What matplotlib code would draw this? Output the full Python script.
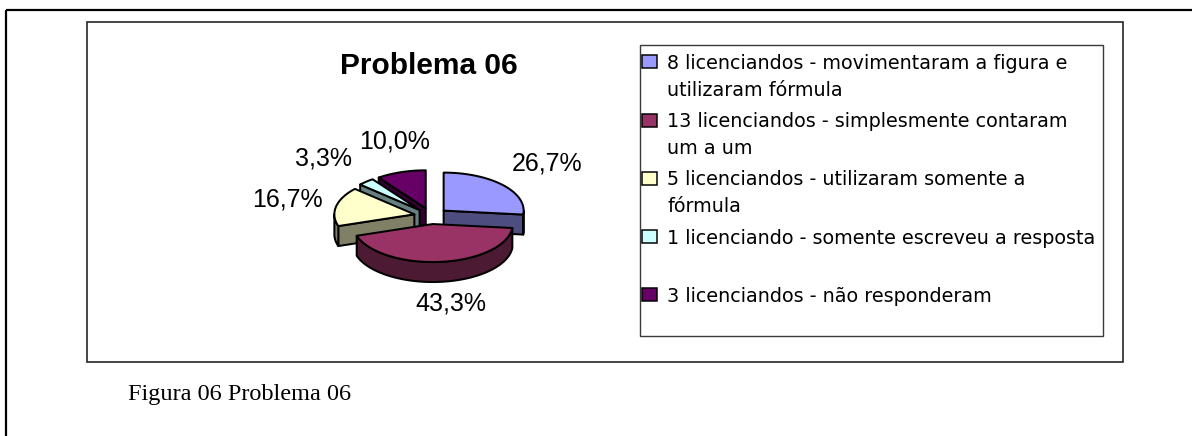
import numpy as np
import matplotlib
matplotlib.use("Agg")
import matplotlib.pyplot as plt
from matplotlib.patches import Polygon, Rectangle

# ---------------- data ----------------
values = [8, 13, 5, 1, 3]
legend_labels = [
    "8 licenciandos - movimentaram a figura e\nutilizaram fórmula",
    "13 licenciandos - simplesmente contaram\num a um",
    "5 licenciandos - utilizaram somente a\nfórmula",
    "1 licenciando - somente escreveu a resposta",
    "3 licenciandos - não responderam",
]
title = "Problema 06"
caption = "Figura 06 Problema 06"

# ---------------- style ----------------
top_colors = ["#9999FF", "#993366", "#FFFFCC", "#CCFFFF", "#660066"]
side_colors = ["#4D4D80", "#4D1A33", "#808066", "#668080", "#330033"]
label_nudge_x = [5, 4, 3, -7, 10]

W, H = 1192, 436
fig = plt.figure(figsize=(W / 100, H / 100), dpi=100)
ax = fig.add_axes([0, 0, 1, 1])
ax.set_xlim(0, W)
ax.set_ylim(H, 0)
ax.axis("off")

PX = 0.72  # points per pixel

# page border (top & left)
ax.plot([6, W], [10, 10], color="black", lw=2.2 * PX, solid_capstyle="butt")
ax.plot([6, 6], [10, H], color="black", lw=2.2 * PX, solid_capstyle="butt")

# chart frame
ax.add_patch(Rectangle((87, 22), 1123 - 87, 362 - 22, fill=False,
                       edgecolor="#2a2a2a", lw=1.7 * PX))
# legend frame
ax.add_patch(Rectangle((640, 45), 1103 - 640, 336 - 45, fill=False,
                       edgecolor="#3a3a3a", lw=1.4 * PX))

# ---------------- pseudo-3D exploded pie ----------------
cx, cy = 431.0, 216.0
rx, ry = 80.0, 38.0
depth = 20.0
explode = 17.0
tilt = ry / rx

total = float(sum(values))
cum = np.concatenate([[0.0], np.cumsum(values)])
starts = 90.0 - cum[:-1] / total * 360.0  # high angle (ccw)
ends = 90.0 - cum[1:] / total * 360.0     # low angle
mids = (starts + ends) / 2.0


def rim(ox, oy, th_deg, dz=0.0):
    th = np.radians(th_deg)
    return np.column_stack([cx + ox + rx * np.cos(th),
                            cy + oy - ry * np.sin(th) + dz])


edge_kw = dict(edgecolor="black", lw=2.0 * PX, joinstyle="round")
order = np.argsort(-np.sin(np.radians(mids)))
for i in order:
    lo, hi, m = ends[i], starts[i], mids[i]
    mr = np.radians(m)
    ox = explode * np.cos(mr)
    oy = -explode * tilt * np.sin(mr)
    v_top = np.array([cx + ox, cy + oy])
    v_bot = v_top + np.array([0, depth])
    # radial walls
    for a, vis in ((lo, np.cos(np.radians(lo)) > 1e-9),
                   (hi, np.cos(np.radians(hi)) < -1e-9)):
        if vis:
            p_top = rim(ox, oy, [a])[0]
            p_bot = rim(ox, oy, [a], depth)[0]
            ax.add_patch(Polygon([v_top, p_top, p_bot, v_bot], closed=True,
                                 facecolor=side_colors[i], **edge_kw))
    # outer curved wall (front half only)
    for k in range(-2, 2):
        a0 = max(lo, 180 + 360 * k)
        a1 = min(hi, 360 + 360 * k)
        if a1 - a0 > 1e-6:
            th = np.linspace(a0, a1, 80)
            top = rim(ox, oy, th)
            bot = rim(ox, oy, th[::-1], depth)
            ax.add_patch(Polygon(np.vstack([top, bot]), closed=True,
                                 facecolor=side_colors[i], **edge_kw))
    # top face
    th = np.linspace(lo, hi, 120)
    pts = np.vstack([[v_top], rim(ox, oy, th)])
    ax.add_patch(Polygon(pts, closed=True, facecolor=top_colors[i], **edge_kw))

# percentage labels
for i, m in enumerate(mids):
    mr = np.radians(m)
    pct = f"{values[i] / total * 100:.1f}%".replace(".", ",")
    lx = cx + 150 * np.cos(mr) + label_nudge_x[i]
    ly = cy - 78 * np.sin(mr) + (10 if np.sin(mr) < 0 else 0)
    ax.text(lx, ly, pct, ha="center", va="center", fontsize=18,
            family="Liberation Sans", color="black")

# title
ax.text(429, 66, title, ha="center", va="center", fontsize=21.5,
        fontweight="bold", family="Liberation Sans")

# ---------------- legend ----------------
base0, step, line_gap = 69.0, 58.2, 27.0
for i, lab in enumerate(legend_labels):
    b = base0 + i * step
    ax.add_patch(Rectangle((642, b - 13.5), 15, 13, facecolor=top_colors[i],
                           edgecolor="black", lw=1.5 * PX))
    for j, line in enumerate(lab.split("\n")):
        ax.text(667, b + j * line_gap, line, ha="left", va="baseline",
                fontsize=13.75, family="DejaVu Sans", color="black")

# caption
ax.text(128, 400, caption, ha="left", va="baseline", fontsize=17.5,
        family="Liberation Serif", color="black")

fig.savefig("out.png", dpi=100)
